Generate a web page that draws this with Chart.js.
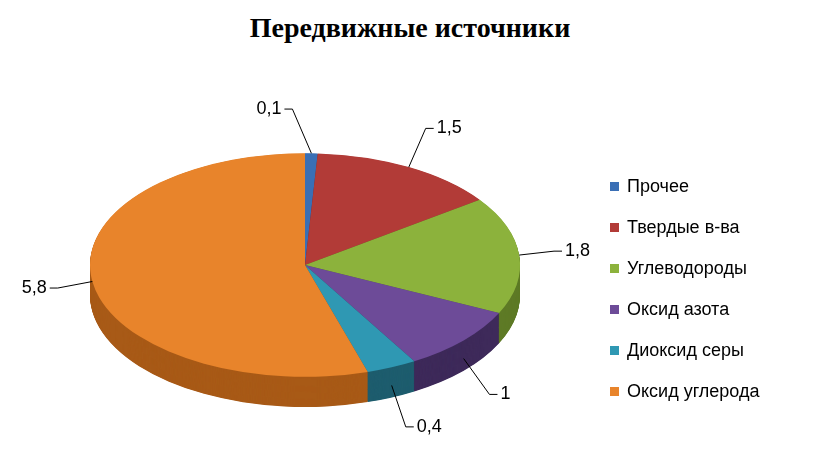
<!DOCTYPE html>
<html><head><meta charset="utf-8">
<script src="https://cdn.jsdelivr.net/npm/chart.js@4"></script>
<style>
body{margin:0;background:#fff;width:820px;height:474px;overflow:hidden;position:relative;font-family:"Liberation Sans",Arial,sans-serif}
#t{position:absolute;left:0;width:820px;top:12px;text-align:center;font:bold 28px "Liberation Serif","Times New Roman",serif;color:#000}
#lg{position:absolute;left:610px;top:166px;font-size:18px;color:#000}
#lg div{height:41px;display:flex;align-items:center}
#lg span{display:inline-block;width:9px;height:9px;margin-right:8px}
#c{position:absolute;left:0;top:0}
</style></head><body>
<div id="t">Передвижные источники</div>
<canvas id="c" width="820" height="474"></canvas>
<div id="lg"></div>
<script>
const categories=["Прочее","Твердые в-ва","Углеводороды","Оксид азота","Диоксид серы","Оксид углерода"];
const values=[0.1,1.5,1.8,1,0.4,5.8];
const labels=["0,1","1,5","1,8","1","0,4","5,8"];
const colors=["#3a6fb5","#b23b37","#8cb23c","#6d4b98","#2f98b3","#e8842b"];
const sides=["#254a7a","#7a2523","#5e7a26","#3e2a5a","#1e5d6e","#a85a17"];
const K=0.52, DEPTH=58;
const lg=document.getElementById('lg');
categories.forEach((c,i)=>{const d=document.createElement('div');d.innerHTML='<span style="background:'+colors[i]+'"></span>'+c;lg.appendChild(d);});
const tilt={id:'tilt',
beforeDatasetsDraw(ch){const a=ch.getDatasetMeta(0).data;const ctx=ch.ctx;const cx=a[0].x,cy=a[0].y;
 ctx.save();ctx.translate(cx,cy);ctx.scale(1,K);ctx.translate(-cx,-cy);
 for(let d=DEPTH;d>0;d--){a.forEach((e,i)=>{ctx.beginPath();ctx.moveTo(e.x,e.y+d);ctx.arc(e.x,e.y+d,e.outerRadius,e.startAngle,e.endAngle);ctx.closePath();ctx.fillStyle=sides[i];ctx.fill();});}},
afterDatasetsDraw(ch){const ctx=ch.ctx;ctx.restore();
 const a=ch.getDatasetMeta(0).data;const cx=a[0].x,cy=a[0].y,r=a[0].outerRadius;const dp=DEPTH*K;
 ctx.font='18px "Liberation Sans",Arial,sans-serif';ctx.strokeStyle='#000';ctx.lineWidth=1;ctx.fillStyle='#000';
 a.forEach((e,i)=>{const m=(e.startAngle+e.endAngle)/2;const c=Math.cos(m),s=Math.sin(m);
  const front=s>0.2;
  const ax=cx+r*c, ay=cy+r*K*s+(front?dp*0.6:0);
  const right=c>0.1;
  const lx=cx+(r+35)*c+(c>0&&c<=0.1?-20:0), ly=cy+(r+(front?45:85))*K*s+(front?dp+8:0);
  ctx.beginPath();ctx.moveTo(ax,ay);ctx.lineTo(lx,ly);ctx.lineTo(lx+(right?8:-8),ly);ctx.stroke();
  ctx.textBaseline='middle';ctx.textAlign=right?'left':'right';
  ctx.fillText(labels[i],lx+(right?11:-11),ly);});
}};
new Chart(document.getElementById('c'),{type:'pie',
data:{labels:categories,datasets:[{data:values,backgroundColor:colors,borderWidth:0,radius:215}]},
options:{responsive:false,animation:false,events:[],layout:{padding:{left:0,right:210,top:70,bottom:14}},
plugins:{legend:{display:false},tooltip:{enabled:false},title:{display:false}}},
plugins:[tilt]});
</script></body></html>
